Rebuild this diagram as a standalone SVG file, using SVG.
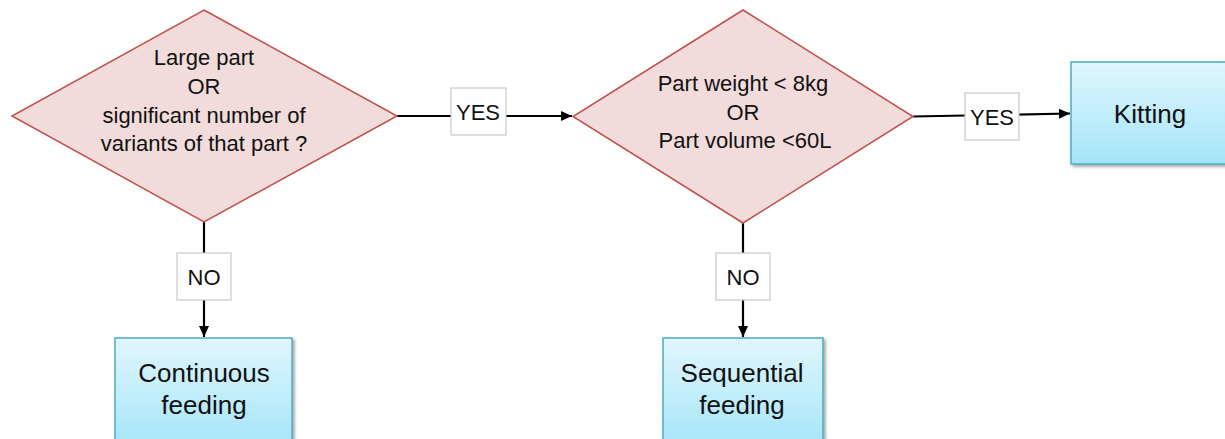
<svg xmlns="http://www.w3.org/2000/svg" width="1225" height="439" viewBox="0 0 1225 439">
<style>
.dia{fill:#f2dcdb;stroke:#c0504d;stroke-width:1.5}
.box{fill:url(#blue);stroke:#4bacc6;stroke-width:1.5;filter:url(#sh)}
.lbl{fill:#fff;stroke:#c8c8c8;stroke-width:1.2}
.ln{fill:none;stroke:#000;stroke-width:2.2}
text{font-family:"Liberation Sans",Arial,sans-serif;fill:#111;text-anchor:middle}
.t{font-size:22px}
.b{font-size:26px}
.l{font-size:22px}
</style>
<defs>
<linearGradient id="blue" x1="0" y1="0" x2="0" y2="1">
<stop offset="0" stop-color="#e0f6fd"/>
<stop offset="1" stop-color="#a4e5f8"/>
</linearGradient>
<filter id="sh" x="-10%" y="-10%" width="130%" height="130%">
<feDropShadow dx="2" dy="2" stdDeviation="1.5" flood-color="#000" flood-opacity="0.35"/>
</filter>
<marker id="arr" markerWidth="12" markerHeight="12" refX="11" refY="5.5" orient="auto" markerUnits="userSpaceOnUse">
<path d="M0,0.5 L11,5.5 L0,10.5 Z" fill="#000"/>
</marker>
</defs>
<g id="connectors">
<line class="ln" x1="397" y1="116" x2="572" y2="116" marker-end="url(#arr)"/>
<line class="ln" x1="913" y1="116.5" x2="1070" y2="113.5" marker-end="url(#arr)"/>
<line class="ln" x1="204" y1="222" x2="204" y2="337" marker-end="url(#arr)"/>
<line class="ln" x1="743" y1="223" x2="743" y2="337" marker-end="url(#arr)"/>
<g id="label-yes1"><rect class="lbl" x="451" y="88" width="55" height="47"/><text class="l" x="478" y="119.5">YES</text></g>
<g id="label-yes2"><rect class="lbl" x="965" y="93" width="54" height="47"/><text class="l" x="992" y="124.5">YES</text></g>
<g id="label-no1"><rect class="lbl" x="177" y="253" width="54" height="47"/><text class="l" x="204" y="284.5">NO</text></g>
<g id="label-no2"><rect class="lbl" x="716" y="253" width="54" height="47"/><text class="l" x="743" y="284.5">NO</text></g>
</g>
<g id="decision1">
<polygon class="dia" points="204,10 397,116 204,222 12,116"/>
<text class="t" x="204" y="65">Large part</text>
<text class="t" x="204" y="94">OR</text>
<text class="t" x="204" y="122.5">significant number of</text>
<text class="t" x="204" y="150.5">variants of that part ?</text>
</g>
<g id="decision2">
<polygon class="dia" points="743,10 913,116.5 743,223 573,116.5"/>
<text class="t" x="743" y="91">Part weight &lt; 8kg</text>
<text class="t" x="743" y="119.5">OR</text>
<text class="t" x="745" y="148">Part volume &lt;60L</text>
</g>
<g id="kitting">
<rect class="box" x="1071" y="62" width="165" height="102"/>
<text class="b" x="1150" y="123">Kitting</text>
</g>
<g id="continuous">
<rect class="box" x="115" y="338" width="177" height="110"/>
<text class="b" x="204" y="382">Continuous</text>
<text class="b" x="204" y="414">feeding</text>
</g>
<g id="sequential">
<rect class="box" x="663" y="338" width="160" height="110"/>
<text class="b" x="742" y="382">Sequential</text>
<text class="b" x="742" y="414">feeding</text>
</g>
</svg>
